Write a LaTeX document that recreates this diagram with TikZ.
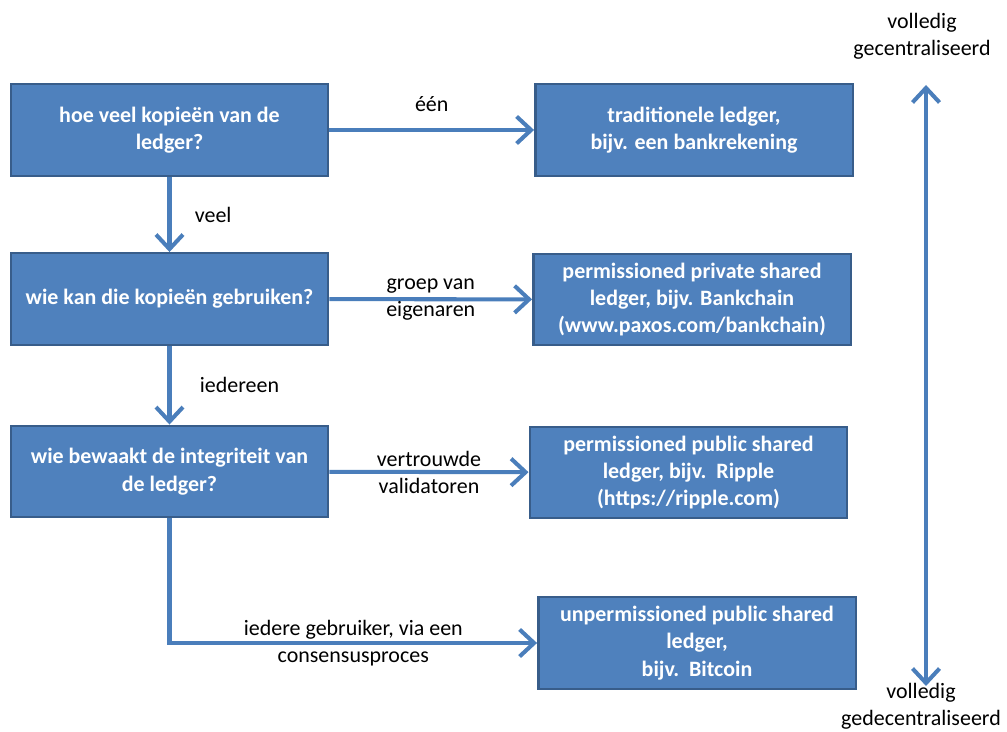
\documentclass[tikz,border=0pt]{standalone}
\usepackage{fontspec}
\setmainfont{Carlito}
\usetikzlibrary{arrows.meta, positioning}
\definecolor{cBoxFill}{RGB}{79,129,189}
\definecolor{cBoxBorder}{RGB}{56,93,138}
\definecolor{cArrow}{RGB}{74,126,187}

\begin{document}
\begin{tikzpicture}[x=0.02cm, y=-0.02cm,
        box/.style={rectangle, fill=cBoxFill, draw=cBoxBorder, line width=1.4pt,
        minimum width=6.35cm, minimum height=1.83cm, align=center,
        font=\fontsize{12.5}{15.6}\selectfont\bfseries, text=white},
        lbl/.style={font=\fontsize{12.5}{15.4}\selectfont, align=center, text=black},
        arrow/.style={-{Straight Barb[length=2.9mm, width=5.4mm]}, draw=cArrow, line width=2.3pt}
    ]
        \useasboundingbox (0,0) rectangle (1007,732);

        % --- questions ---
        \node[box] (copies)  at (169.5,130)  {hoe veel kopieën van de\\ledger?};
        \node[box] (users)   at (169.5,299)  {wie kan die kopieën gebruiken?};
        \node[box] (guard)   at (169.5,471.5) {wie bewaakt de integriteit van\\de ledger?};

        % --- ledger types ---
        \node[box] (trad)    at (694,130)    {traditionele ledger,\\bijv. een bankrekening};
        \node[box] (private) at (692,299.5)  {permissioned private shared\\ledger, bijv. Bankchain\\(www.paxos.com/bankchain)};
        \node[box] (public)  at (688.5,472.5) {permissioned public shared\\ledger, bijv.~~Ripple\\(https://ripple.com)};
        \node[box] (open)    at (697,643)    {unpermissioned public shared\\ledger,\\bijv.~~Bitcoin};

        \draw[arrow] (copies) -- (trad) node[lbl, midway, above=2mm] {één};
        \draw[arrow] (copies) -- (users) node[lbl, midway, right=3.5mm] {veel};
        \draw[arrow] (users) -- (private) node[lbl, midway] {groep van\\eigenaren};
        \draw[arrow] (users) -- (guard) node[lbl, midway, right=4.5mm] {iedereen};
        \draw[arrow] (guard) -- (public) node[lbl, midway] {vertrouwde\\validatoren};
        \draw[arrow] (guard.south) |- (open.west) node[lbl, pos=0.75] {iedere gebruiker, via een\\consensusproces};

        % --- scale on the right ---
        \node[lbl] (centr)   at (922,36)  {volledig\\gecentraliseerd};
        \node[lbl] (decentr) at (921,706) {volledig\\gedecentraliseerd};
        \coordinate (scaletop) at (926,85);
        \coordinate (scalebot) at (926,686);
        \draw[arrow, {Straight Barb[length=2.9mm, width=5.4mm]}-{Straight Barb[length=2.9mm, width=5.4mm]}] (scaletop) -- (scalebot);

    \end{tikzpicture}
\end{document}
